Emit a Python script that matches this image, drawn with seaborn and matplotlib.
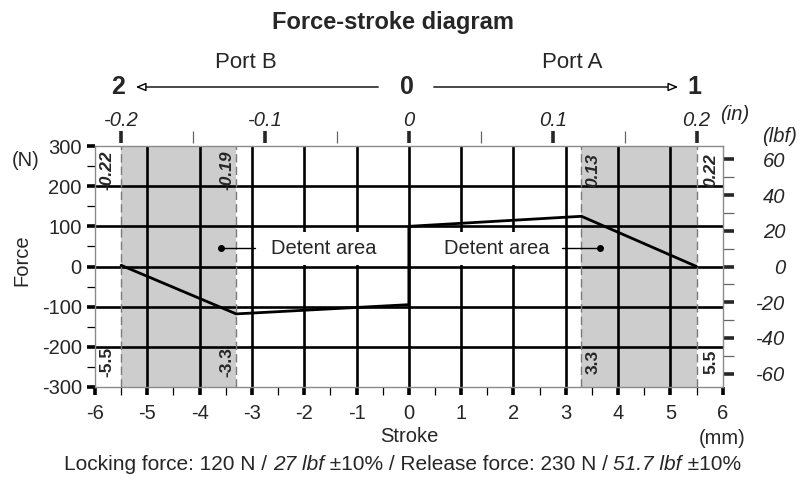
import numpy as np
import pandas as pd
import matplotlib
matplotlib.use("Agg")
import matplotlib.pyplot as plt
from matplotlib.patches import FancyArrowPatch
from matplotlib.ticker import MultipleLocator
import seaborn as sns

# Force-stroke curve of the detent (stroke in mm, force in N)
stroke_mm = [-5.5, -3.3, 0.0, 0.0, 3.3, 5.5]
force_n = [3, -118, -95, 100, 125, 0]

# Detent zones and their boundary labels
detent_zones = [(-5.5, -3.3), (3.3, 5.5)]
boundaries_mm = [-5.5, -3.3, 3.3, 5.5]
boundary_mm_labels = ["-5.5", "-3.3", "3.3", "5.5"]
boundary_in_labels = ["-0.22", "-0.19", "0.13", "0.22"]

x_ticks_mm = [-6, -5, -4, -3, -2, -1, 0, 1, 2, 3, 4, 5, 6]
y_ticks_n = [-300, -200, -100, 0, 100, 200, 300]
in_ticks = [-0.2, -0.1, 0, 0.1, 0.2]
in_tick_labels = ["-0.2", "-0.1", "0", "0.1", "0.2"]
lbf_ticks = [-60, -40, -20, 0, 20, 40, 60]

title = "Force-stroke diagram"
footnote_parts = ["Locking force: 120 N / ", "27 lbf", " ±10% / Release force: 230 N / ", "51.7 lbf", " ±10%"]

MM_PER_IN = 27.5
N_PER_LBF = 4.448
FS = 14.5

sns.set_theme(style="ticks")
plt.rcParams["font.family"] = ["Liberation Sans", "DejaVu Sans"]
plt.rcParams["axes.linewidth"] = 1.0

W, H = 805, 483
fig = plt.figure(figsize=(W / 100, H / 100), dpi=100)
L, R, T, B = 95, 722.7, 146, 387
ax = fig.add_axes([L / W, 1 - B / H, (R - L) / W, (B - T) / H])

def fx(px):
    return px / W

def fy(py):
    return 1 - py / H

# detent shading and dashed boundaries
for lo, hi in detent_zones:
    ax.axvspan(lo, hi, color="#cdcdcd", lw=0, zorder=1)
for b in boundaries_mm:
    ax.axvline(b, color="#7a7a7a", lw=1.0, ls=(0, (6, 3)), zorder=2)

df = pd.DataFrame({"stroke": stroke_mm, "force": force_n})
sns.lineplot(data=df, x="stroke", y="force", sort=False, estimator=None,
             color="black", lw=2.0, ax=ax, zorder=3)

ax.set_xlim(-6, 6)
ax.set_ylim(-300, 300)
ax.set_xticks(x_ticks_mm)
ax.set_xticklabels([str(v) for v in x_ticks_mm])
ax.xaxis.set_minor_locator(MultipleLocator(0.5))
ax.set_yticks(y_ticks_n)
ax.set_yticklabels([str(v) for v in y_ticks_n])
ax.yaxis.set_minor_locator(MultipleLocator(50))

ax.set_axisbelow("line")
ax.grid(True, which="major", color="black", lw=1.9)
for t in ax.xaxis.get_major_ticks()[:1] + ax.xaxis.get_major_ticks()[-1:]:
    t.gridline.set_visible(False)
for t in ax.yaxis.get_major_ticks()[:1] + ax.yaxis.get_major_ticks()[-1:]:
    t.gridline.set_visible(False)

for s in ax.spines.values():
    s.set_color("#8a8a8a")
    s.set_linewidth(1.0)

ax.tick_params(which="major", direction="out", length=6, width=2.6, color="black",
               labelsize=FS, pad=3.5)
ax.tick_params(which="minor", direction="out", length=6, width=0.9, color="black")
ax.tick_params(axis="x", which="major", pad=6.5)

ax.set_xlabel("Stroke", fontsize=FS)
ax.xaxis.label.set_va("center")
ax.xaxis.set_label_coords(0.5, (B - 437) / (B - T))
ax.set_ylabel("Force", fontsize=FS)
ax.yaxis.label.set_va("center")
ax.yaxis.set_label_coords((22 - L) / (R - L), (B - 260) / (B - T))

# inch scale on top
secx = ax.secondary_xaxis(1 + 3 / (B - T), functions=(lambda x: x / MM_PER_IN, lambda x: x * MM_PER_IN))
secx.set_xticks(in_ticks)
secx.set_xticklabels(in_tick_labels, fontstyle="italic")
secx.xaxis.set_minor_locator(MultipleLocator(0.05))
secx.spines["top"].set_visible(False)
secx.tick_params(which="major", length=9, width=2.6, labelsize=FS, pad=0.5)
secx.tick_params(which="minor", length=9, width=0.9, color="#666666")

# lbf scale on the right
secy = ax.secondary_yaxis("right", functions=(lambda y: y / N_PER_LBF, lambda y: y * N_PER_LBF))
secy.set_yticks(lbf_ticks)
secy.set_yticklabels([str(v) for v in lbf_ticks], fontstyle="italic")
secy.yaxis.set_minor_locator(MultipleLocator(10))
secy.spines["right"].set_visible(False)
secy.tick_params(which="major", length=8, width=2.6, labelsize=FS, pad=37)
secy.tick_params(which="minor", length=8, width=0.9, color="#666666")
for lab in secy.get_yticklabels():
    lab.set_horizontalalignment("right")

# boundary annotations inside the plot
label_x = {-5.5: -5.77, -3.3: -3.47, 3.3: 3.52, 5.5: 5.77}
for xb, lab_in, lab_mm in zip(boundaries_mm, boundary_in_labels, boundary_mm_labels):
    xt = label_x[xb]
    ax.text(xt, 240, lab_in, rotation=90, fontsize=12.5, fontweight="bold", fontstyle="italic",
            ha="center", va="center", zorder=5)
    ax.text(xt, -237, lab_mm, rotation=90, fontsize=12.5, fontweight="bold",
            ha="center", va="center", zorder=5)

# detent area callouts
ax.text(-1.62, 45, "Detent area", fontsize=FS, ha="center", va="center", zorder=4,
        bbox=dict(boxstyle="square,pad=0.35", fc="white", ec="none"))
ax.plot([-3.6, -2.95], [45, 45], color="black", lw=1.0, zorder=4)
ax.plot([-3.6], [45], "o", color="black", ms=4, zorder=4)
ax.text(1.68, 45, "Detent area", fontsize=FS, ha="center", va="center", zorder=4,
        bbox=dict(boxstyle="square,pad=0.35", fc="white", ec="none"))
ax.plot([2.93, 3.66], [45, 45], color="black", lw=1.0, zorder=4)
ax.plot([3.66], [45], "o", color="black", ms=4, zorder=4)

# header
fig.text(fx(393), fy(22), title, fontsize=17, fontweight="bold", ha="center", va="center")
fig.text(fx(246), fy(63), "Port B", fontsize=16, ha="center", va="center")
fig.text(fx(572), fy(63), "Port A", fontsize=16, ha="center", va="center")
fig.text(fx(118), fy(87), "2", fontsize=18, fontweight="bold", ha="center", va="center")
fig.text(fx(407), fy(87), "0", fontsize=18, fontweight="bold", ha="center", va="center")
fig.text(fx(694), fy(87), "1", fontsize=18, fontweight="bold", ha="center", va="center")
for x0, x1 in [(381, 133), (431, 681)]:
    fig.patches.append(FancyArrowPatch((fx(x0), fy(87)), (fx(x1), fy(87)), transform=fig.transFigure,
                                       arrowstyle="-|>,head_length=6,head_width=2.5",
                                       mutation_scale=1, lw=1.0, ec="black", fc="white"))

# unit labels
fig.text(fx(735), fy(115), "(in)", fontsize=FS, fontstyle="italic", ha="center", va="center")
fig.text(fx(779), fy(137), "(lbf)", fontsize=FS, fontstyle="italic", ha="center", va="center")
fig.text(fx(26), fy(161), "(N)", fontsize=FS, ha="center", va="center")
fig.text(fx(722), fy(438), "(mm)", fontsize=FS, ha="center", va="center")

# footnote with italic imperial values
x = fx(64)
renderer = fig.canvas.get_renderer()
for i, part in enumerate(footnote_parts):
    t = fig.text(x, fy(465), part, fontsize=15, fontstyle="italic" if i % 2 else "normal",
                 ha="left", va="center")
    bb = t.get_window_extent(renderer=renderer)
    x += bb.width / W

fig.savefig("out.png", dpi=100)
